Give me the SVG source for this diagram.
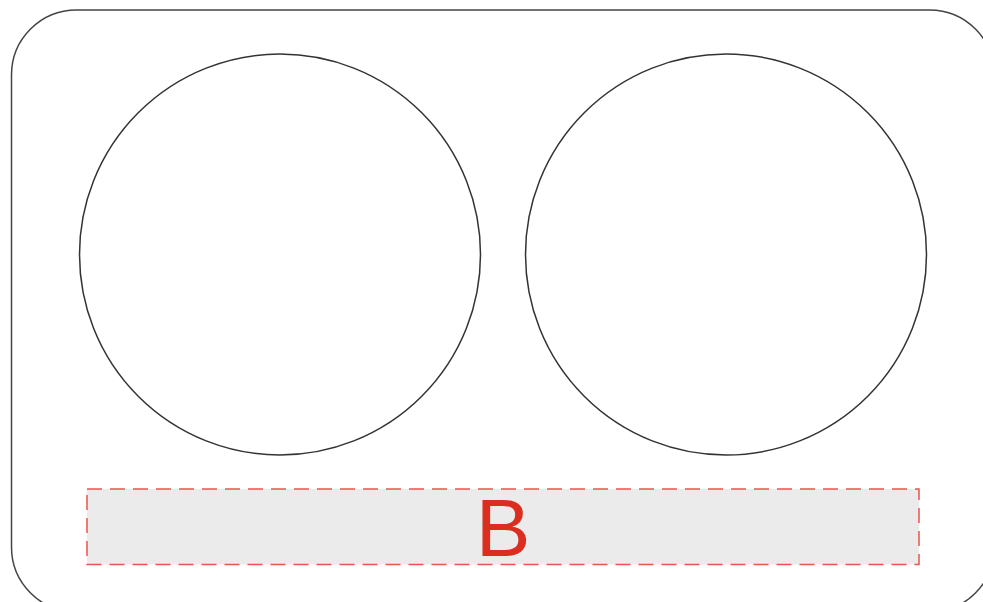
<svg xmlns="http://www.w3.org/2000/svg" width="983" height="602" viewBox="0 0 983 602">
<style>
.frame{fill:#fff;stroke:#444;stroke-width:1.5}
.circ{fill:#fff;stroke:#333;stroke-width:1.5}
.band{fill:#ebebeb;stroke:#e8554c;stroke-width:1.5;stroke-dasharray:15 8}
.lbl{font-family:"Liberation Sans",Arial,sans-serif;font-size:82px;fill:#dc2d21;text-anchor:middle}
</style>
<rect width="983" height="602" fill="#fff"/>
<g id="frame"><rect class="frame" x="11.5" y="10" width="983" height="602" rx="65" ry="65"/></g>
<g id="circle-left"><circle class="circ" cx="280" cy="254.5" r="200.5"/></g>
<g id="circle-right"><circle class="circ" cx="726" cy="254.5" r="200.5"/></g>
<g id="band-b"><rect class="band" x="87" y="489" width="832" height="75.5"/><text class="lbl" x="503" y="556">B</text></g>
<g id="connectors"/>
</svg>
